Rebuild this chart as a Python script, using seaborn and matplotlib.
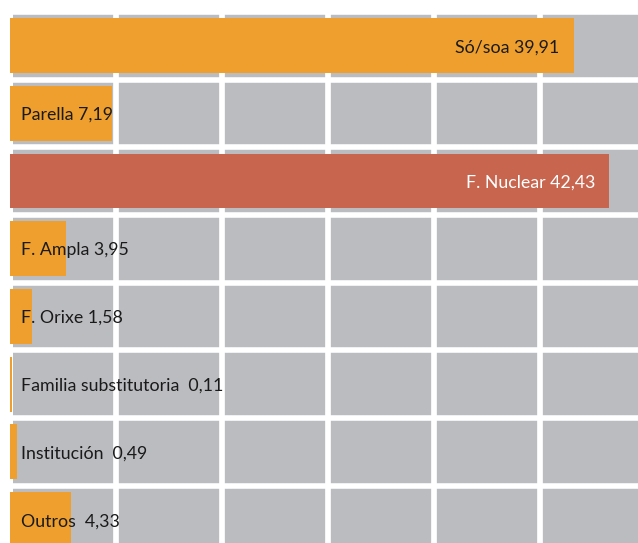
import matplotlib
matplotlib.use("Agg")
import matplotlib.pyplot as plt
import seaborn as sns
import pandas as pd

# ---- data ----
categories = ["Só/soa", "Parella", "F. Nuclear", "F. Ampla", "F. Orixe",
              "Familia substitutoria", "Institución", "Outros"]
values = [39.91, 7.19, 42.43, 3.95, 1.58, 0.11, 0.49, 4.33]
label_gaps = [" ", " ", " ", " ", " ", "  ", "  ", "  "]
inside_right = [True, False, True, False, False, False, False, False]
bar_colors = ["#EE9F2D", "#EE9F2D", "#C8654F", "#EE9F2D", "#EE9F2D",
              "#EE9F2D", "#EE9F2D", "#EE9F2D"]
grid_step = 7.5

GREY = "#BBBCC0"

sns.set_theme(style="white")
plt.rcParams["font.family"] = ["Lato", "DejaVu Sans"]

W, H = 638, 543
fig = plt.figure(figsize=(W / 100, H / 100), dpi=100)
fig.patch.set_facecolor("white")

px_per_unit = 14.12
row_px = 67.7
top_px = 11.8
left_px = 10
n = len(categories)
xmax = (W - left_px) / px_per_unit
ax_h = n * row_px
ax = fig.add_axes([left_px / W, 1 - (top_px + ax_h) / H, (W - left_px) / W, ax_h / H])
ax.set_facecolor(GREY)

df = pd.DataFrame({"cat": categories, "val": values})
sns.barplot(data=df, x="val", y="cat", hue="cat", palette=bar_colors,
            width=0.81, legend=False, ax=ax, orient="h", saturation=1,
            linewidth=0, zorder=3)

ax.set_xlim(0, xmax)
ax.set_ylim(n - 0.5, -0.5)

# white grid
for k in range(1, 6):
    ax.axvline(k * grid_step, color="white", lw=4.1, zorder=1)
for i in range(n + 1):
    ax.axhline(i - 0.5, color="white", lw=4.0, zorder=1.5)
ax.axvspan(0, 3 / px_per_unit, color="white", zorder=1.2, lw=0)

for sp in ax.spines.values():
    sp.set_visible(False)
ax.set_xticks([])
ax.set_yticks([])
ax.set_xlabel("")
ax.set_ylabel("")

fs = 12.8
for i, (c, v, g, r) in enumerate(zip(categories, values, label_gaps, inside_right)):
    txt = f"{c}{g}" + f"{v:.2f}".replace(".", ",")
    if r:
        col = "white" if bar_colors[i] == "#C8654F" else "#1a1a1a"
        ax.annotate(txt, xy=(v, i), xytext=(-10, -1.2), textcoords="offset points",
                    ha="right", va="center", fontsize=fs, color=col, zorder=5)
    else:
        ax.annotate(txt, xy=(0, i), xytext=(8, -1.2), textcoords="offset points",
                    ha="left", va="center", fontsize=fs, color="#1a1a1a", zorder=5)

fig.savefig("out.png", dpi=100)
